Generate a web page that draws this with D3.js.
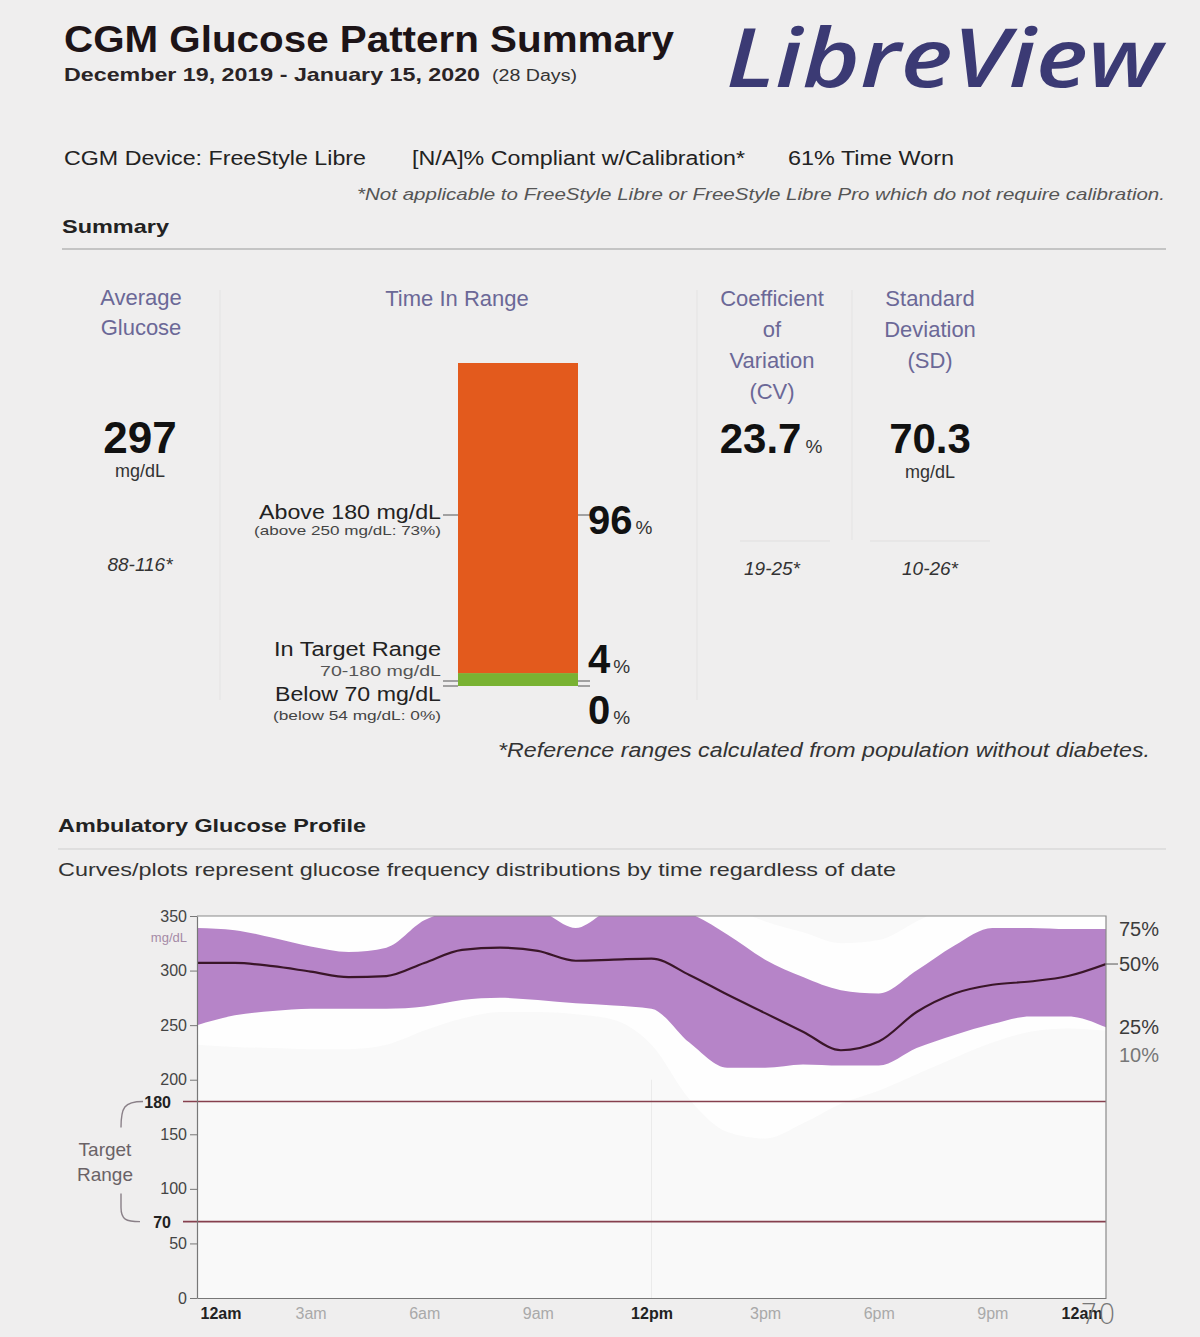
<!DOCTYPE html>
<html>
<head>
<meta charset="utf-8">
<script src="https://cdn.jsdelivr.net/npm/d3@7/dist/d3.min.js"></script>
<style>
  html, body { margin: 0; padding: 0; background: #efeeee; }
  svg { display: block; font-family: "Liberation Sans", Arial, sans-serif; }
</style>
</head>
<body>
<svg id="chart" width="1200" height="1337"></svg>
<script>
// ---- Time in range (percent of readings) ----
const rangeNames = ["below", "inRange", "above"];
const rangePct = [0, 4, 96];
const rangeColors = ["#c8222a", "#79b232", "#e35a1d"];

// ---- Ambulatory glucose profile (mg/dL by hour of day) ----
const hours = [0,1,2,3,4,5,6,7,8,9,10,11,12,13,14,15,16,17,18,19,20,21,22,23,24];
const p10 = [232,230,229,228,228,232,245,256,262,262,260,255,232,182,152,146,160,178,190,205,220,234,244,247,245];
const p25 = [250,259,263,265,265,265,267,273,275,273,270,268,265,234,211,211,214,213,213,229,241,251,258,258,248];
const p50 = [307,307,304,299,294,295,307,319,321,318,309,310,311,296,278,261,244,227,235,262,279,287,290,295,306];
const p75 = [339,337,330,322,317,321,346,356,358,355,339,356,357,352,333,310,294,282,279,300,323,339,339,338,338];
const p90 = [372,372,368,362,360,364,380,388,390,388,380,388,388,380,360,345,335,325,328,345,362,372,372,372,372];

const yTicks = [0, 50, 100, 150, 200, 250, 300, 350];
const targetLow = 70, targetHigh = 180;
const timeTicks = [0, 3, 6, 9, 12, 15, 18, 21, 24];
const timeLabels = ["12am", "3am", "6am", "9am", "12pm", "3pm", "6pm", "9pm", "12am"];
const pctLabels = ["75%", "50%", "25%", "10%"];

const svg = d3.select("#chart");
const ink = "#1d1417";
const headCol = "#6b6897";

function txt(x, y, s, o = {}) {
  const t = svg.append("text").attr("x", x).attr("y", y).text(s)
    .attr("font-size", o.size || 18)
    .attr("fill", o.fill || ink)
    .attr("text-anchor", o.anchor || "start");
  if (o.weight) t.attr("font-weight", o.weight);
  if (o.italic) t.attr("font-style", "italic");
  if (o.family) t.attr("font-family", o.family);
  if (o.len) t.attr("textLength", o.len).attr("lengthAdjust", "spacingAndGlyphs");
  return t;
}

// ---- Header ----
txt(64, 52, "CGM Glucose Pattern Summary", {size: 36, weight: "bold", len: 610});
txt(64, 81, "December 19, 2019 - January 15, 2020", {size: 19, weight: "bold", fill: "#2a2426", len: 416});
txt(492, 81, "(28 Days)", {size: 16, fill: "#333", len: 85});
txt(726, 87, "LibreView", {size: 82, italic: true, weight: 600, fill: "#3b3a74",
  family: "'Open Sans', 'Noto Sans', sans-serif", len: 436});

const narrow = "'Liberation Sans Narrow', 'Arial Narrow', 'Liberation Sans', Arial, sans-serif";
txt(64, 165, "CGM Device: FreeStyle Libre", {size: 20, family: narrow, fill: "#222", len: 302});
txt(412, 165, "[N/A]% Compliant w/Calibration*", {size: 20, family: narrow, fill: "#222", len: 333});
txt(788, 165, "61% Time Worn", {size: 20, family: narrow, fill: "#222", len: 166});
txt(1165, 200, "*Not applicable to FreeStyle Libre or FreeStyle Libre Pro which do not require calibration.",
  {size: 17, family: narrow, italic: true, fill: "#555", anchor: "end", len: 808});
txt(62, 233, "Summary", {size: 19, weight: "bold", family: narrow, fill: "#222", len: 107});
svg.append("line").attr("x1", 62).attr("x2", 1166).attr("y1", 249).attr("y2", 249)
  .attr("stroke", "#9a9a9a").attr("stroke-width", 1.2);

// faint column separators
[[220, 290, 700], [697, 290, 700], [852, 290, 540]].forEach(([x, a, b]) =>
  svg.append("line").attr("x1", x).attr("x2", x).attr("y1", a).attr("y2", b)
    .attr("stroke", "#e4e3e3").attr("stroke-width", 1));

// ---- Average glucose ----
txt(141, 305, "Average", {size: 22, fill: headCol, anchor: "middle"});
txt(141, 335, "Glucose", {size: 22, fill: headCol, anchor: "middle"});
txt(140, 453, "297", {size: 44, weight: "bold", anchor: "middle", fill: "#111"});
txt(140, 477, "mg/dL", {size: 18, anchor: "middle", fill: "#333"});
txt(140, 571, "88-116*", {size: 19, italic: true, anchor: "middle", fill: "#333"});

// ---- Time in range bar ----
txt(457, 306, "Time In Range", {size: 22, fill: headCol, anchor: "middle"});
const barX = 458, barW = 120;
const yBar = d3.scaleLinear().domain([0, 100]).range([686, 363]);
const stack = [];
let acc = 0;
rangePct.forEach((v, i) => { stack.push({name: rangeNames[i], y0: acc, y1: acc + v, color: rangeColors[i]}); acc += v; });
svg.append("g").selectAll("rect").data(stack.filter(d => d.y1 > d.y0)).join("rect")
  .attr("x", barX).attr("width", barW)
  .attr("y", d => yBar(d.y1)).attr("height", d => yBar(d.y0) - yBar(d.y1))
  .attr("fill", d => d.color);

function tick(x1, x2, y) {
  svg.append("line").attr("x1", x1).attr("x2", x2).attr("y1", y).attr("y2", y)
    .attr("stroke", "#555").attr("stroke-width", 1);
}
tick(443, barX, 515); tick(barX + barW, barX + barW + 12, 515);
tick(443, barX, 681); tick(barX + barW, barX + barW + 12, 681);
tick(443, barX, 686); tick(barX + barW, barX + barW + 12, 686);

txt(441, 519, "Above 180 mg/dL", {size: 20, anchor: "end", fill: "#222", len: 182});
txt(441, 535, "(above 250 mg/dL: 73%)", {size: 13, anchor: "end", fill: "#444", len: 187});
txt(441, 656, "In Target Range", {size: 20, anchor: "end", fill: "#222", len: 167});
txt(441, 676, "70-180 mg/dL", {size: 15, anchor: "end", fill: "#555", len: 121});
txt(441, 701, "Below 70 mg/dL", {size: 20, anchor: "end", fill: "#222", len: 166});
txt(441, 720, "(below 54 mg/dL: 0%)", {size: 13, anchor: "end", fill: "#444", len: 168});

function pct(x, y, v) {
  const t = svg.append("text").attr("x", x).attr("y", y).attr("fill", "#111");
  t.append("tspan").text(v).attr("font-size", 40).attr("font-weight", "bold");
  t.append("tspan").text("%").attr("font-size", 19).attr("dx", 3).attr("fill", "#333");
}
pct(588, 534, rangePct[2]);
pct(588, 673, rangePct[1]);
pct(588, 724, rangePct[0]);

// ---- Coefficient of variation ----
["Coefficient", "of", "Variation", "(CV)"].forEach((s, i) =>
  txt(772, 306 + i * 31, s, {size: 22, fill: headCol, anchor: "middle"}));
(function () {
  const t = svg.append("text").attr("x", 771).attr("y", 453).attr("text-anchor", "middle").attr("fill", "#111");
  t.append("tspan").text("23.7").attr("font-size", 42).attr("font-weight", "bold");
  t.append("tspan").text("%").attr("font-size", 19).attr("dx", 4).attr("fill", "#333");
})();
txt(772, 575, "19-25*", {size: 19, italic: true, anchor: "middle", fill: "#333"});

// ---- Standard deviation ----
["Standard", "Deviation", "(SD)"].forEach((s, i) =>
  txt(930, 306 + i * 31, s, {size: 22, fill: headCol, anchor: "middle"}));
txt(930, 453, "70.3", {size: 42, weight: "bold", anchor: "middle", fill: "#111"});
txt(930, 478, "mg/dL", {size: 18, anchor: "middle", fill: "#333"});
txt(930, 575, "10-26*", {size: 19, italic: true, anchor: "middle", fill: "#333"});

// faint underlines below the stat values
[[740, 830], [870, 990]].forEach(([a, b]) =>
  svg.append("line").attr("x1", a).attr("x2", b).attr("y1", 541).attr("y2", 541)
    .attr("stroke", "#e0dfdf").attr("stroke-width", 1));

txt(1150, 757, "*Reference ranges calculated from population without diabetes.",
  {size: 20, italic: true, anchor: "end", fill: "#333", len: 652});

// ---- Ambulatory Glucose Profile ----
txt(58, 832, "Ambulatory Glucose Profile", {size: 19, weight: "bold", family: narrow, fill: "#222", len: 308});
svg.append("line").attr("x1", 58).attr("x2", 1166).attr("y1", 849).attr("y2", 849)
  .attr("stroke", "#cfcfcf").attr("stroke-width", 1);
txt(58, 876, "Curves/plots represent glucose frequency distributions by time regardless of date",
  {size: 19, fill: "#333", len: 838});

const L = 197, R = 1106, T = 916, B = 1298;
const x = d3.scaleLinear().domain([0, 24]).range([L, R]);
const y = d3.scaleLinear().domain([0, 350]).range([B, T]);

svg.append("rect").attr("x", L).attr("y", T).attr("width", R - L).attr("height", B - T).attr("fill", "#f9f9f9");
svg.append("defs").append("clipPath").attr("id", "plotClip")
  .append("rect").attr("x", L).attr("y", T).attr("width", R - L).attr("height", B - T);

const plot = svg.append("g").attr("clip-path", "url(#plotClip)");
const band = (lo, hi) => d3.area().curve(d3.curveMonotoneX)
  .x((d, i) => x(hours[i])).y0((d, i) => y(lo[i])).y1((d, i) => y(hi[i]));

// 10-90 band is paler than the plot paper; 25-75 band in purple
plot.append("path").datum(hours).attr("d", band(p10, p90)).attr("fill", "#fefefe");
plot.append("path").datum(hours).attr("d", band(p25, p75)).attr("fill", "#b684c8");

// faint noon guide
plot.append("line").attr("x1", x(12)).attr("x2", x(12)).attr("y1", y(200)).attr("y2", B)
  .attr("stroke", "#ebebeb").attr("stroke-width", 1);

// target range lines
[targetHigh, targetLow].forEach(v =>
  svg.append("line").attr("x1", 183).attr("x2", R).attr("y1", y(v)).attr("y2", y(v))
    .attr("stroke", "#86404e").attr("stroke-width", 1.6));

plot.append("path").datum(hours)
  .attr("d", d3.line().curve(d3.curveMonotoneX).x((d, i) => x(hours[i])).y((d, i) => y(p50[i])))
  .attr("fill", "none").attr("stroke", "#3a1629").attr("stroke-width", 2.2);

// frame: top and right
svg.append("path").attr("d", `M${L},${T}H${R}V${B}`).attr("fill", "none")
  .attr("stroke", "#8a8a8a").attr("stroke-width", 1.2);

// y axis
const yAxis = svg.append("g").attr("transform", `translate(${L},0)`)
  .call(d3.axisLeft(y).tickValues(yTicks).tickSize(7).tickSizeOuter(0).tickPadding(3));
yAxis.select(".domain").attr("stroke", "#777").attr("stroke-width", 1.2);
yAxis.selectAll(".tick line").attr("stroke", "#777");
yAxis.selectAll(".tick text").attr("font-size", 16).attr("fill", "#444")
  .attr("font-family", "'Liberation Sans', Arial, sans-serif");
txt(187, 942, "mg/dL", {size: 13, anchor: "end", fill: "#a58aa6"});

txt(171, 1108, String(targetHigh), {size: 16, weight: "bold", anchor: "end", fill: "#222"});
txt(171, 1228, String(targetLow), {size: 16, weight: "bold", anchor: "end", fill: "#222"});

// target range bracket
svg.append("path").attr("d", `M143,${y(targetHigh)} C124,${y(targetHigh)} 121,${y(targetHigh) + 6} 121,${y(targetHigh) + 26}`)
  .attr("fill", "none").attr("stroke", "#8a8088").attr("stroke-width", 1.4);
svg.append("path").attr("d", `M121,${y(targetLow) - 28} L121,${y(targetLow) - 14} C121,${y(targetLow) - 2} 126,${y(targetLow)} 140,${y(targetLow)}`)
  .attr("fill", "none").attr("stroke", "#8a8088").attr("stroke-width", 1.4);
txt(105, 1156, "Target", {size: 19, anchor: "middle", fill: "#6a6266"});
txt(105, 1181, "Range", {size: 19, anchor: "middle", fill: "#6a6266"});

// x axis
const xAxis = svg.append("g").attr("transform", `translate(0,${B})`)
  .call(d3.axisBottom(x).tickValues(timeTicks).tickSize(0).tickPadding(10)
    .tickFormat((d, i) => timeLabels[i]));
xAxis.select(".domain").attr("stroke", "#777").attr("stroke-width", 1.2);
xAxis.selectAll(".tick text")
  .attr("font-size", 16)
  .attr("font-family", "'Liberation Sans', Arial, sans-serif")
  .attr("fill", d => d % 12 === 0 ? "#222" : "#a9a9a9")
  .attr("font-weight", d => d % 12 === 0 ? "bold" : "normal")
  .attr("text-anchor", (d, i) => i === 0 ? "start" : (i === timeTicks.length - 1 ? "end" : "middle"))
  .attr("dx", (d, i) => i === 0 ? 3 : (i === timeTicks.length - 1 ? -4 : 0));
txt(1098, 1324, "70", {size: 28, anchor: "middle", fill: "#777", weight: 300,
  family: "'DejaVu Sans', sans-serif"});

// percentile labels on the right edge
const ends = [p75[24], p50[24], p25[24], p10[24]];
let prevY = -Infinity;
const labY = ends.map(v => { let yy = Math.max(y(v), prevY + 28); prevY = yy; return yy; });
pctLabels.forEach((s, i) =>
  txt(1119, labY[i] + 7, s, {size: 20, fill: i === 3 ? "#777" : "#3c3c3c"}));
tick(R, 1118, y(p50[24]));
</script>
</body>
</html>
